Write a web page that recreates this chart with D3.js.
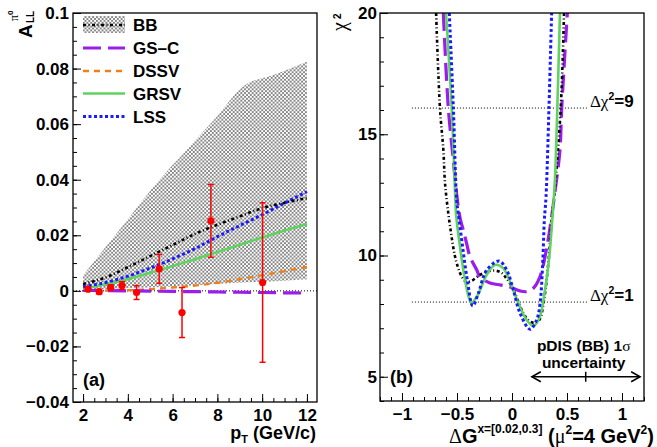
<!DOCTYPE html>
<html><head><meta charset="utf-8">
<script src="https://cdn.jsdelivr.net/npm/d3@7"></script>
<style>body{margin:0;background:#fff} svg{display:block}</style>
</head><body><svg id="c" width="657" height="447"></svg>
<script>
// ---------------- DATA (panel a) ----------------
const ptTheory = [2, 3, 4, 5, 6, 7, 8, 9, 10, 11, 12];
const allBB   = [0.0025, 0.0048, 0.0085, 0.0125, 0.0165, 0.0205, 0.0238, 0.0268, 0.0298, 0.0317, 0.0334];
const allGSC  = [0.0002, 0.0001, 0.0, -0.0001, -0.0002, -0.0003, -0.0004, -0.0005, -0.0006, -0.0007, -0.0008];
const allDSSV = [0.0, 0.0001, 0.0002, 0.0006, 0.0012, 0.0019, 0.0029, 0.0042, 0.0056, 0.0071, 0.0086];
const allGRSV = [0.0008, 0.0023, 0.0042, 0.0065, 0.0089, 0.0114, 0.014, 0.0166, 0.0192, 0.0217, 0.0241];
const allLSS  = [0.0015, 0.003, 0.0053, 0.0082, 0.0115, 0.0152, 0.0195, 0.0235, 0.0274, 0.0316, 0.0357];
const ptBand  = [2.0, 2.9, 4.09, 5.29, 6.63, 7.9, 9.14, 10.6, 12.0];
const bandHi  = [0.0055, 0.0147, 0.0267, 0.0388, 0.0508, 0.062, 0.0735, 0.078, 0.0825];
const bandLo  = [0.0003, 0.0006, 0.001, 0.0013, 0.0018, 0.0025, 0.003, 0.0035, 0.0042];
const ptData  = [2.22, 2.72, 3.23, 3.74, 4.39, 5.40, 6.42, 7.71, 10.02];
const allData = [0.0006, -0.0003, 0.0012, 0.0019, -0.0006, 0.0079, -0.0078, 0.0252, 0.0030];
const errData = [0.0007, 0.0008, 0.001, 0.0014, 0.0025, 0.0052, 0.009, 0.0131, 0.0287];
const xTicksL = [2, 4, 6, 8, 10, 12];
const xTickLabelsL = ["2", "4", "6", "8", "10", "12"];
const yTicksL = [-0.04, -0.02, 0, 0.02, 0.04, 0.06, 0.08, 0.1];
const yTickLabelsL = ["\u22120.04", "\u22120.02", "0", "0.02", "0.04", "0.06", "0.08", "0.1"];
const legendNames = ["BB", "GS\u2013C", "DSSV", "GRSV", "LSS"];

// ---------------- DATA (panel b) ----------------
const bbDG   = [-0.69, -0.655, -0.624, -0.609, -0.579, -0.55, -0.52, -0.49, -0.457, -0.418, -0.37, -0.291, -0.185, -0.1, -0.05, 0.0, 0.045, 0.103, 0.148, 0.2, 0.248, 0.291, 0.33, 0.366, 0.385, 0.443, 0.473];
const bbChi2 = [20, 16.08, 14.35, 12.98, 11.74, 10.8, 10.0, 9.5, 9.13, 8.92, 8.95, 9.2, 9.38, 9.3, 9.05, 8.71, 8.24, 7.62, 7.34, 7.22, 7.34, 8.17, 9.68, 11.74, 12.5, 16.08, 20];
const gscDG   = [-0.624, -0.579, -0.535, -0.505, -0.47, -0.44, -0.41, -0.382, -0.32, -0.29, -0.2, -0.1, -0.018, 0.073, 0.133, 0.194, 0.255, 0.315, 0.36, 0.39, 0.436, 0.452, 0.503];
const gscChi2 = [20, 16.08, 14.0, 12.6, 11.5, 11.0, 10.45, 9.95, 9.4, 9.1, 8.87, 8.78, 8.70, 8.54, 8.51, 8.65, 9.13, 10.3, 11.6, 12.6, 14.35, 16.08, 20];
const grsvDG   = [-0.60, -0.548, -0.515, -0.509, -0.473, -0.427, -0.39, -0.367, -0.32, -0.29, -0.23, -0.155, -0.079, 0.0, 0.058, 0.133, 0.194, 0.248, 0.30, 0.339, 0.37, 0.39, 0.412, 0.436];
const grsvChi2 = [20, 16.08, 12.3, 11.74, 10.36, 8.99, 8.24, 8.05, 8.3, 8.58, 9.2, 9.61, 9.47, 8.71, 8.03, 7.34, 7.10, 7.41, 8.58, 9.95, 11.74, 13.1, 16.08, 20];
const lssDG   = [-0.57, -0.533, -0.503, -0.488, -0.449, -0.406, -0.357, -0.306, -0.23, -0.118, -0.048, 0.012, 0.073, 0.164, 0.224, 0.255, 0.279, 0.294, 0.309, 0.336, 0.36];
const lssChi2 = [20, 16.08, 12.29, 11.74, 10.36, 8.99, 7.92, 8.44, 9.40, 9.77, 9.40, 8.58, 7.62, 6.96, 7.34, 8.03, 9.68, 11.46, 12.4, 16.08, 20];
const deltaChi2Levels = [16.08, 8.08];
const deltaChi2Labels = ["9", "1"];
const deltaChi2Span = [-0.91, 0.69];
const pdisRange = [0.18, 1.165];
const pdisCenter = 0.67;
const pdisChi2 = 5.0;
const xTicksR = [-1, -0.5, 0, 0.5, 1];
const xTickLabelsR = ["\u22121", "\u22120.5", "0", "0.5", "1"];
const yTicksR = [5, 10, 15, 20];
const yTickLabelsR = ["5", "10", "15", "20"];

// ---------------- STYLE ----------------
const SANS = "'Liberation Sans', Arial, Helvetica, sans-serif";
const SERIF = "'Liberation Serif', 'DejaVu Serif', serif";
const styles = {
  BB:   {stroke: "#000000", width: 2.6, dash: "3,2.5,1,2.5"},
  GSC:  {stroke: "#9b1dea", width: 3.2, dash: "18,7"},
  DSSV: {stroke: "#f07f1b", width: 2.4, dash: "6,5"},
  GRSV: {stroke: "#5fd35f", width: 2.6, dash: null},
  LSS:  {stroke: "#1a1aff", width: 3, dash: "3,2.5"}
};

const svg = d3.select("#c");
svg.append("rect").attr("width", 657).attr("height", 447).attr("fill", "#fff");
const defs = svg.append("defs");
const pat = defs.append("pattern").attr("id", "hatch").attr("patternUnits", "userSpaceOnUse")
  .attr("width", 3.8).attr("height", 3.8);
pat.append("path").attr("d", "M0,0L3.8,3.8M3.8,0L0,3.8").attr("stroke", "#666").attr("stroke-width", 0.75);

// ---------------- PANEL A ----------------
const xL = d3.scaleLinear().domain([1.55, 12.45]).range([73, 317]);
const yL = d3.scaleLinear().domain([-0.04, 0.1]).range([402, 13]);
defs.append("clipPath").attr("id", "clipL").append("rect")
  .attr("x", 73).attr("y", 13).attr("width", 244).attr("height", 389);

function styleAxis(g, fs) {
  g.select(".domain").remove();
  g.selectAll("line").attr("stroke", "#000").attr("stroke-width", 1);
  g.selectAll("text").attr("font-family", SANS).attr("font-weight", "bold")
    .attr("font-size", fs).attr("fill", "#000");
}
function range(a, b, s) { const r = []; for (let v = a; v <= b + 1e-9; v += s) r.push(+v.toFixed(6)); return r; }

styleAxis(svg.append("g").attr("transform", "translate(73,0)")
  .call(d3.axisLeft(yL).tickValues(range(-0.04, 0.1, 0.005)).tickSize(-4).tickFormat("")), 17);
styleAxis(svg.append("g").attr("transform", "translate(0,402)")
  .call(d3.axisBottom(xL).tickValues(range(2, 12, 0.5)).tickSize(-4).tickFormat("")), 17);
styleAxis(svg.append("g").attr("transform", "translate(73,0)")
  .call(d3.axisLeft(yL).tickValues(yTicksL).tickSize(-8).tickPadding(4)
    .tickFormat(d => yTickLabelsL[yTicksL.indexOf(d)])), 17);
styleAxis(svg.append("g").attr("transform", "translate(0,402)")
  .call(d3.axisBottom(xL).tickValues(xTicksL).tickSize(-8).tickPadding(7)
    .tickFormat(d => xTickLabelsL[xTicksL.indexOf(d)])), 17);

const gL = svg.append("g").attr("clip-path", "url(#clipL)");
gL.append("path")
  .attr("d", d3.area().x((d, i) => xL(ptBand[i])).y0((d, i) => yL(bandLo[i])).y1(d => yL(d))
    .curve(d3.curveMonotoneX)(bandHi))
  .attr("fill", "url(#hatch)").attr("stroke", "none");
gL.append("line").attr("x1", xL(1.55)).attr("x2", xL(12.45)).attr("y1", yL(0)).attr("y2", yL(0))
  .attr("stroke", "#000").attr("stroke-width", 1).attr("stroke-dasharray", "1,2");
const lineA = d3.line().x((d, i) => xL(ptTheory[i])).y(d => yL(d)).curve(d3.curveMonotoneX);
function drawCurve(g, path, st) {
  g.append("path").attr("d", path).attr("fill", "none").attr("stroke", st.stroke)
    .attr("stroke-width", st.width).attr("stroke-dasharray", st.dash);
}
drawCurve(gL, lineA(allDSSV), styles.DSSV);
drawCurve(gL, lineA(allGSC), styles.GSC);
drawCurve(gL, lineA(allGRSV), styles.GRSV);
drawCurve(gL, lineA(allLSS), styles.LSS);
drawCurve(gL, lineA(allBB), styles.BB);
const gd = gL.append("g");
ptData.forEach((p, i) => {
  const x = xL(p), y1 = yL(allData[i] + errData[i]), y2 = yL(allData[i] - errData[i]);
  gd.append("line").attr("x1", x).attr("x2", x).attr("y1", y1).attr("y2", y2).attr("stroke", "#f00").attr("stroke-width", 1.5);
  [y1, y2].forEach(yy => gd.append("line").attr("x1", x - 3).attr("x2", x + 3).attr("y1", yy).attr("y2", yy)
    .attr("stroke", "#f00").attr("stroke-width", 1.5));
  gd.append("circle").attr("cx", x).attr("cy", yL(allData[i])).attr("r", 3.6).attr("fill", "#f00");
});
svg.append("rect").attr("x", 73).attr("y", 13).attr("width", 244).attr("height", 389)
  .attr("fill", "none").attr("stroke", "#000").attr("stroke-width", 1.3);

const legKeys = ["BB", "GSC", "DSSV", "GRSV", "LSS"];
const legY = [25, 48, 71, 93.5, 116.5];
legKeys.forEach((k, i) => {
  const y = legY[i];
  if (k === "BB") {
    svg.append("rect").attr("x", 83).attr("y", y - 9).attr("width", 42).attr("height", 17).attr("fill", "url(#hatch)");
  }
  svg.append("line").attr("x1", 83).attr("x2", 125).attr("y1", y).attr("y2", y)
    .attr("stroke", styles[k].stroke).attr("stroke-width", styles[k].width).attr("stroke-dasharray", styles[k].dash);
  svg.append("text").attr("x", 133).attr("y", y).attr("dy", "0.36em").attr("font-family", SANS)
    .attr("font-weight", "bold").attr("font-size", 17).text(legendNames[i]);
});

svg.append("text").attr("x", 83).attr("y", 386).attr("font-family", SANS).attr("font-weight", "bold")
  .attr("font-size", 18).text("(a)");
svg.append("text").attr("transform", "translate(32,38) rotate(-90)").attr("font-family", SANS)
  .attr("font-weight", "bold").attr("font-size", 19).text("A");
svg.append("text").attr("transform", "translate(34,23) rotate(-90)").attr("font-family", SANS)
  .attr("font-weight", "bold").attr("font-size", 10).text("LL");
svg.append("text").attr("transform", "translate(18,21) rotate(-90)").attr("font-family", SERIF)
  .attr("font-size", 12).text("\u03c0");
svg.append("text").attr("transform", "translate(13,15) rotate(-90)").attr("font-family", SANS)
  .attr("font-weight", "bold").attr("font-size", 8).text("0");
const tA = svg.append("text").attr("x", 316).attr("y", 439).attr("text-anchor", "end")
  .attr("font-family", SANS).attr("font-weight", "bold").attr("font-size", 18);
tA.append("tspan").text("p");
tA.append("tspan").attr("font-size", 11).attr("dy", 4).text("T");
tA.append("tspan").attr("dy", -4).text(" (GeV/c)");

// ---------------- PANEL B ----------------
const xR = d3.scaleLinear().domain([-1.2, 1.2]).range([380, 644]);
const yR = d3.scaleLinear().domain([4, 20]).range([401, 13]);
defs.append("clipPath").attr("id", "clipR").append("rect")
  .attr("x", 380).attr("y", 13).attr("width", 264).attr("height", 388);

styleAxis(svg.append("g").attr("transform", "translate(380,0)")
  .call(d3.axisLeft(yR).tickValues(range(4, 20, 1)).tickSize(-4).tickFormat("")), 17);
styleAxis(svg.append("g").attr("transform", "translate(0,401)")
  .call(d3.axisBottom(xR).tickValues(range(-1.2, 1.2, 0.1)).tickSize(-4).tickFormat("")), 17);
styleAxis(svg.append("g").attr("transform", "translate(380,0)")
  .call(d3.axisLeft(yR).tickValues(yTicksR).tickSize(-8).tickPadding(3)
    .tickFormat(d => yTickLabelsR[yTicksR.indexOf(d)])), 17);
styleAxis(svg.append("g").attr("transform", "translate(0,401)")
  .call(d3.axisBottom(xR).tickValues(xTicksR).tickSize(-8).tickPadding(7)
    .tickFormat(d => xTickLabelsR[xTicksR.indexOf(d)])), 17);

const gR = svg.append("g").attr("clip-path", "url(#clipR)");
deltaChi2Levels.forEach(v => {
  gR.append("line").attr("x1", xR(deltaChi2Span[0])).attr("x2", xR(deltaChi2Span[1]))
    .attr("y1", yR(v)).attr("y2", yR(v)).attr("stroke", "#000").attr("stroke-width", 1).attr("stroke-dasharray", "1,2");
});
const lineB = (dg) => d3.line().x((d, i) => xR(dg[i])).y(d => yR(d)).curve(d3.curveCatmullRom.alpha(0.5));
drawCurve(gR, lineB(gscDG)(gscChi2), styles.GSC);
drawCurve(gR, lineB(bbDG)(bbChi2), styles.BB);
drawCurve(gR, lineB(grsvDG)(grsvChi2), styles.GRSV);
drawCurve(gR, lineB(lssDG)(lssChi2), styles.LSS);

svg.append("rect").attr("x", 380).attr("y", 13).attr("width", 264).attr("height", 388)
  .attr("fill", "none").attr("stroke", "#000").attr("stroke-width", 1.3);

deltaChi2Levels.forEach((v, i) => {
  const t = svg.append("text").attr("x", xR(deltaChi2Span[1]) + 2).attr("y", yR(v) - 1)
    .attr("font-family", SANS).attr("font-weight", "bold").attr("font-size", 17);
  t.append("tspan").attr("font-family", SERIF).attr("font-weight", "normal").text("\u0394\u03c7");
  t.append("tspan").attr("font-size", 10.5).attr("dy", -7).text("2");
  t.append("tspan").attr("dy", 7).text("=" + deltaChi2Labels[i]);
});

const ay = yR(pdisChi2), ax1 = xR(pdisRange[0]), ax2 = xR(pdisRange[1]), axm = xR(pdisCenter);
const ga = svg.append("g").attr("stroke", "#000").attr("stroke-width", 1.5).attr("fill", "none");
ga.append("line").attr("x1", ax1).attr("x2", ax2).attr("y1", ay).attr("y2", ay);
ga.append("path").attr("d", `M${ax1 + 9},${ay - 5}L${ax1},${ay}L${ax1 + 9},${ay + 5}`);
ga.append("path").attr("d", `M${ax2 - 9},${ay - 5}L${ax2},${ay}L${ax2 - 9},${ay + 5}`);
ga.append("line").attr("x1", axm).attr("x2", axm).attr("y1", ay - 5).attr("y2", ay + 5);
const tp = svg.append("text").attr("x", axm - 2).attr("y", 351).attr("text-anchor", "middle")
  .attr("font-family", SANS).attr("font-weight", "bold").attr("font-size", 15.5);
tp.append("tspan").text("pDIS (BB) 1");
tp.append("tspan").attr("font-family", SERIF).attr("font-weight", "normal").text("\u03c3");
svg.append("text").attr("x", axm - 2).attr("y", 368).attr("text-anchor", "middle")
  .attr("font-family", SANS).attr("font-weight", "bold").attr("font-size", 15.5).text("uncertainty");

svg.append("text").attr("x", 390).attr("y", 383).attr("font-family", SANS).attr("font-weight", "bold")
  .attr("font-size", 18).text("(b)");
svg.append("text").attr("transform", "translate(346,31) rotate(-90)").attr("font-family", SERIF)
  .attr("font-size", 20).text("\u03c7");
svg.append("text").attr("transform", "translate(341,19) rotate(-90)").attr("font-family", SANS)
  .attr("font-weight", "bold").attr("font-size", 10).text("2");
const tB = svg.append("text").attr("x", 449).attr("y", 443)
  .attr("font-family", SANS).attr("font-weight", "bold").attr("font-size", 20);
tB.append("tspan").attr("font-family", SERIF).attr("font-weight", "normal").text("\u0394");
tB.append("tspan").text("G");
tB.append("tspan").attr("font-size", 12).attr("dy", -10).text("x=[0.02,0.3]");
tB.append("tspan").attr("dy", 10).text(" (");
tB.append("tspan").attr("font-family", SERIF).attr("font-weight", "normal").text("\u03bc");
tB.append("tspan").attr("font-size", 12).attr("dy", -9).text("2");
tB.append("tspan").attr("dy", 9).text("=4 GeV");
tB.append("tspan").attr("font-size", 12).attr("dy", -9).text("2");
tB.append("tspan").attr("dy", 9).text(")");
</script></body></html>
